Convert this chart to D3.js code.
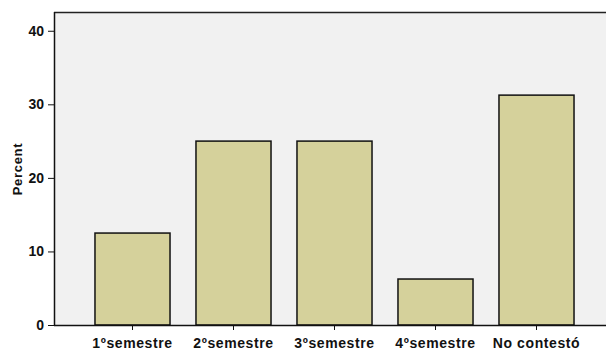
<!DOCTYPE html>
<html><head><meta charset="utf-8">
<script src="https://cdn.jsdelivr.net/npm/d3@7"></script>
<style>body{margin:0;background:#fff}svg{display:block}text{font-family:"Liberation Sans",Arial,sans-serif;font-weight:bold;fill:#111}</style>
</head><body>
<script>
const categories = ["1ºsemestre","2ºsemestre","3ºsemestre","4ºsemestre","No contestó"];
const percents = [12.5, 25, 25, 6.25, 31.25];
const yTicks = [0, 10, 20, 30, 40];
const yLabel = "Percent";

(function () {
const W = 606, H = 352;
const mLeft = 54, mTop = 12, mBottom = 325, mRight = 606;
const svg = d3.select("body").append("svg").attr("width", W).attr("height", H);

const y = d3.scaleLinear().domain([0, 42.55]).range([mBottom, mTop]);
const x = d3.scaleBand().domain(categories).range([82, 587]).paddingInner(0.257).paddingOuter(0.1285);

svg.append("rect").attr("x", mLeft).attr("y", mTop).attr("width", mRight - mLeft).attr("height", mBottom - mTop).attr("fill", "#f1f1f1");
svg.append("line").attr("x1", mLeft).attr("x2", mRight).attr("y1", mTop + 0.5).attr("y2", mTop + 0.5).attr("stroke", "#222").attr("stroke-width", 1.5);

svg.selectAll("rect.bar").data(percents).join("rect").attr("class", "bar")
  .attr("x", (d, i) => x(categories[i]))
  .attr("y", d => y(d))
  .attr("width", x.bandwidth())
  .attr("height", d => y(0) - y(d))
  .attr("fill", "#d5d19b").attr("stroke", "#111").attr("stroke-width", 1.5);

const ya = svg.append("g").attr("transform", `translate(${mLeft},0)`)
  .call(d3.axisLeft(y).tickValues(yTicks).tickSize(6).tickPadding(4));
ya.select(".domain").attr("d", `M0.5,${mTop}V${mBottom}`).attr("stroke", "#111").attr("stroke-width", 1.5);
ya.selectAll("line").attr("stroke", "#111");
ya.selectAll("text").attr("font-size", 14).attr("font-family", null).attr("fill", "#111");

const xa = svg.append("g").attr("transform", `translate(0,${mBottom})`)
  .call(d3.axisBottom(x).tickSize(5).tickPadding(8));
xa.select(".domain").attr("d", `M${mLeft},0.5H${mRight}`).attr("stroke", "#111").attr("stroke-width", 1.5);
xa.selectAll("line").attr("stroke", "#111");
xa.selectAll("text").attr("font-size", 14).attr("font-family", null).style("letter-spacing", "0.6px").attr("fill", "#111");

svg.append("text").attr("transform", `translate(21.5,169) rotate(-90)`)
  .attr("text-anchor", "middle").attr("font-size", 13).style("letter-spacing", "0.7px").text(yLabel);
})();
</script>
</body></html>
